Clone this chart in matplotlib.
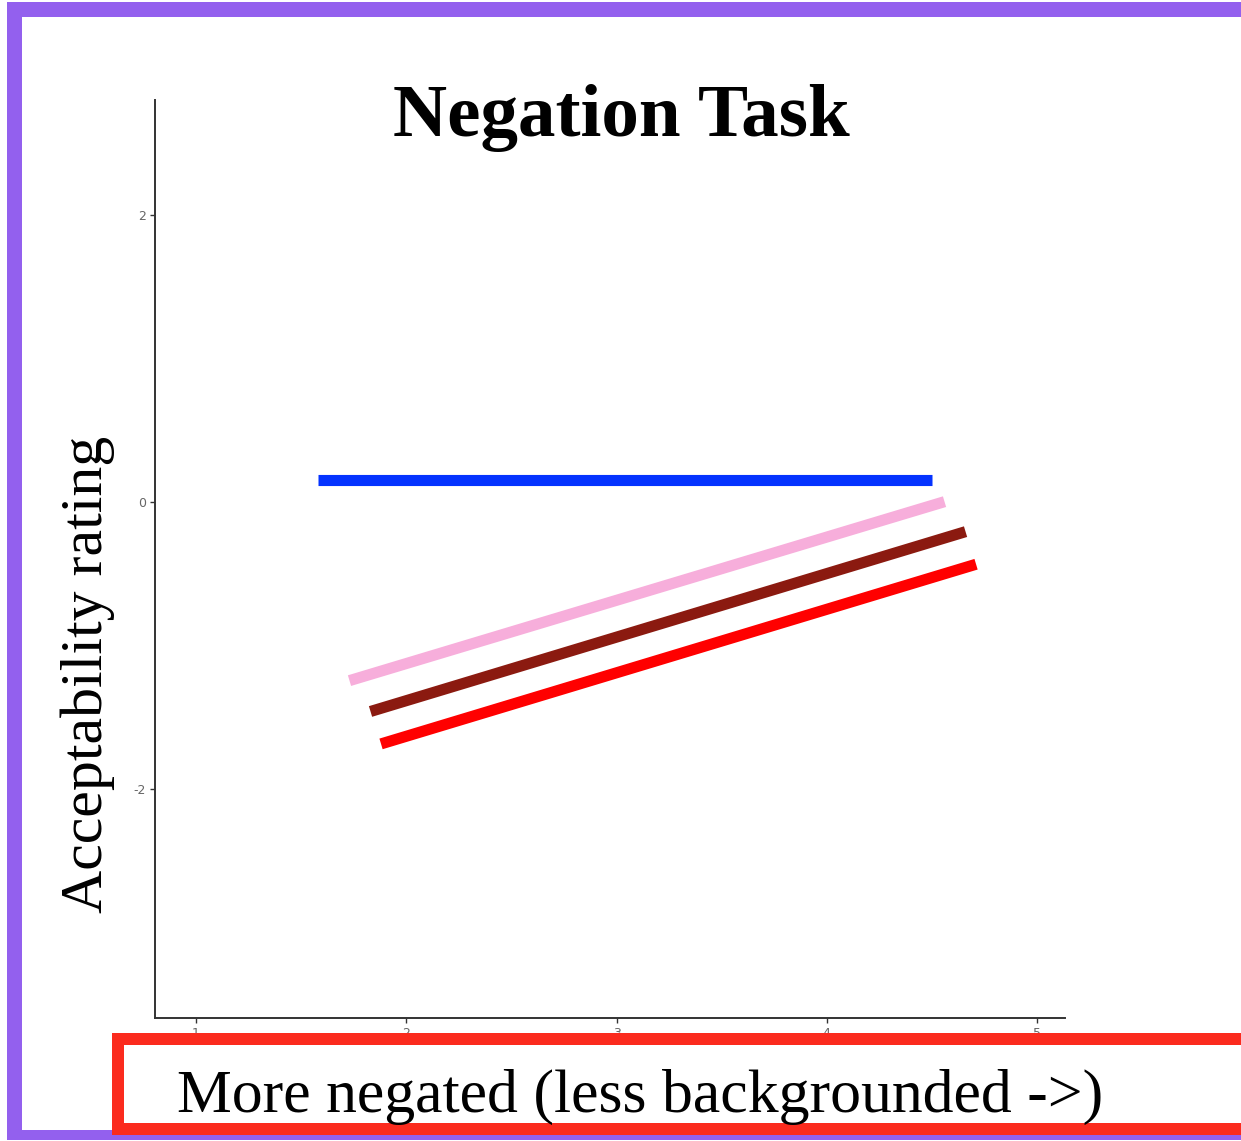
import matplotlib
matplotlib.use("Agg")
import matplotlib.pyplot as plt
from matplotlib.patches import Rectangle

W, H = 1241, 1141
DPI = 100

# Fitted rating lines: one per condition (start/end in data units)
conditions = ["baseline", "pink", "dark red", "red"]
x_start = [1.58, 1.73, 1.83, 1.88]
x_end = [4.50, 4.56, 4.66, 4.71]
y_start = [0.15, -1.245, -1.46, -1.686]
y_end = [0.15, 0.002, -0.207, -0.434]
line_colors = ["#0433FF", "#F7AEDB", "#8B1A10", "#FF0000"]

x_ticks = [1, 2, 3, 4, 5]
y_ticks = [-2, 0, 2]


def fx(px):
    return px / W


def fy(py):
    return 1 - py / H


fig = plt.figure(figsize=(W / DPI, H / DPI), dpi=DPI)
fig.patch.set_facecolor("white")

ax = fig.add_axes([fx(155), fy(1018), fx(1065) - fx(155), fy(100) - fy(1018)])
ax.set_xlim(0.805, 5.133)
ax.set_ylim(-3.596, 2.801)

for xs, xe, ys, ye, c in zip(x_start, x_end, y_start, y_end, line_colors):
    ax.plot([xs, xe], [ys, ye], color=c, lw=8.0, solid_capstyle="butt")

for side in ("top", "right"):
    ax.spines[side].set_visible(False)
for side in ("left", "bottom"):
    ax.spines[side].set_color("#333333")
    ax.spines[side].set_linewidth(1.4)

ax.set_xticks(x_ticks)
ax.set_yticks(y_ticks)
ax.set_yticklabels([str(v) for v in y_ticks])
ax.tick_params(axis="both", length=3.5, width=1.0, color="#333333",
               labelsize=9, labelcolor="#666666", pad=3)

serif = ["Liberation Serif", "DejaVu Serif"]

fig.text(fx(621), fy(136), "Negation Task", ha="center", va="baseline",
         fontsize=54, fontweight="bold", family=serif, color="black")

fig.text(fx(88), fy(674), "Acceptability rating", rotation=90,
         ha="center", va="center", fontsize=43, family=serif, color="black")

# Purple frame (top, left, bottom bands)
purple = "#9360EE"
fig.add_artist(Rectangle((fx(7), fy(17)), fx(W + 10) - fx(7), fy(2) - fy(17),
                         transform=fig.transFigure, color=purple, lw=0))
fig.add_artist(Rectangle((fx(7), fy(1140)), fx(22) - fx(7), fy(2) - fy(1140),
                         transform=fig.transFigure, color=purple, lw=0))
fig.add_artist(Rectangle((fx(7), fy(1140)), fx(W + 10) - fx(7), fy(1130) - fy(1140),
                         transform=fig.transFigure, color=purple, lw=0))

# Red highlight box around the x-axis caption
fig.add_artist(Rectangle((fx(118), fy(1129)), fx(1300) - fx(118), fy(1039) - fy(1129),
                         transform=fig.transFigure, facecolor="white",
                         edgecolor="#FB2B1E", lw=12 * 72 / DPI))

fig.text(fx(640), fy(1112), "More negated (less backgrounded ->)",
         ha="center", va="baseline", fontsize=44.5, family=serif, color="black")

fig.savefig("out.png", dpi=DPI)
